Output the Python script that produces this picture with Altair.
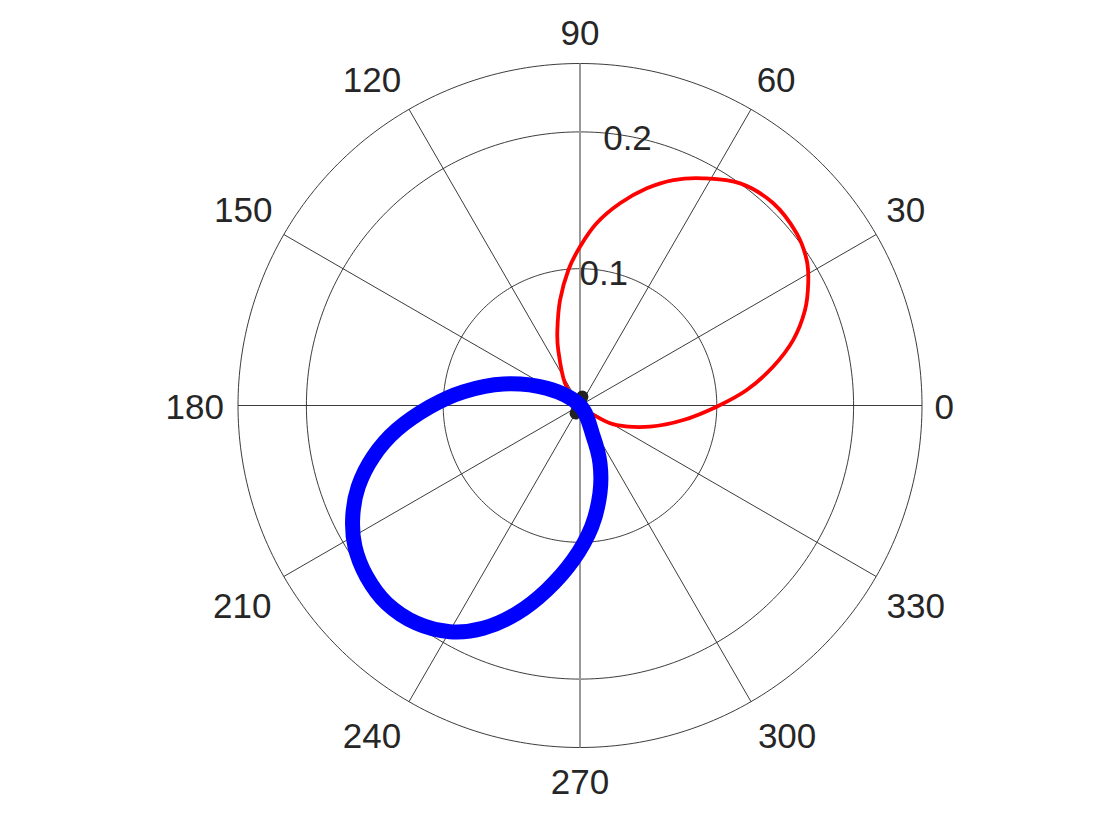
import altair as alt
import numpy as np
import pandas as pd

# ---- data (theta in degrees, r in data units) ----
red_theta = [-45.0, -33.8, -28.0, -16.8, -8.0, -0.5, 5.3, 11.4, 17.1, 23.0, 28.2, 32.7,
             38.5, 46.3, 54.2, 61.5, 67.5, 72.9, 78.8, 84.8, 90.0, 94.9, 100.7, 106.7,
             111.4, 124.0]
red_r = [0.0, 0.0147, 0.0304, 0.0535, 0.0763, 0.0999, 0.1224, 0.1441, 0.1631, 0.1787,
         0.1893, 0.1969, 0.2023, 0.2045, 0.2002, 0.1890, 0.1784, 0.1661, 0.1507, 0.1338,
         0.1161, 0.0994, 0.0785, 0.0576, 0.0436, 0.0196]

blue_theta = [135.0, 152.7, 164.3, 173.3, 180.5, 187.6, 193.9, 200.1, 206.1, 212.1, 218.7,
              225.7, 233.1, 240.1, 246.5, 253.1, 259.8, 267.5, 275.5, 282.8, 289.1, 293.1]
blue_r = [0.0, 0.0274, 0.0582, 0.0859, 0.1097, 0.1352, 0.1557, 0.1726, 0.1850, 0.1942,
          0.1999, 0.2022, 0.1990, 0.1907, 0.1776, 0.1588, 0.1371, 0.1130, 0.0890, 0.0658,
          0.0447, 0.0248]

blob_theta = [75.3, 241.1]
blob_r = [0.0068, 0.0066]

ring_values = [0.1, 0.2, 0.25]
ring_label_values = [0.1, 0.2]
ring_label_texts = ["0.1", "0.2"]
spoke_angles = [0, 30, 60, 120, 150]
angle_labels = [0, 30, 60, 90, 120, 150, 180, 210, 240, 270, 300, 330]

# ---- layout ----
R_MAX = 0.25
W, H = 1104, 824
K = 1368.0          # pixels per data unit
CX, CY = 572.0, 397.5
xs = alt.Scale(domain=[-CX / K, (W - CX) / K], nice=False, zero=False)
ys = alt.Scale(domain=[-(H - CY) / K, CY / K], nice=False, zero=False)
X = alt.X("px:Q", scale=xs, axis=None)
Y = alt.Y("py:Q", scale=ys, axis=None)
TXT = "#262626"
FONT = "Liberation Sans"
FS = 35
# small pixel nudges of the angle labels (dx right, dy down), matching the reference layout
label_nudge_dx = [-12, 0, 8, 0, -20, -11, -9, -12, -20, 0, 19, 10]
label_nudge_dy = [0, -9, -1, 2, -1, -9, 0, 11, 3, -1, 3, 11]


def polar(ch):
    return ch.transform_calculate(
        px="datum.r * cos(datum.theta * PI / 180)",
        py="datum.r * sin(datum.theta * PI / 180)",
    )


# rings
grid_ang = np.arange(0, 361, 1)
ring_df = pd.DataFrame(
    [{"ring": i, "theta": float(a), "r": rv, "o": j}
     for i, rv in enumerate(ring_values) for j, a in enumerate(grid_ang)]
)
rings = polar(alt.Chart(ring_df).mark_line(color=TXT, strokeWidth=0.9)).encode(
    x=X, y=Y, detail="ring:N", order="o:Q")

# spokes
spoke_df = pd.DataFrame(
    [{"s": a, "theta": float(a + k * 180), "r": R_MAX, "o": k}
     for a in spoke_angles for k in (0, 1)]
)
spokes = polar(alt.Chart(spoke_df).mark_line(color=TXT, strokeWidth=0.9)).encode(
    x=X, y=Y, detail="s:N", order="o:Q")

vert_df = pd.DataFrame({"theta": [90.0, 270.0], "r": [R_MAX, R_MAX], "o": [0, 1]})
vert = polar(alt.Chart(vert_df).mark_line(color="#999999", strokeWidth=2)).encode(
    x=X, y=Y, order="o:Q")

# ring labels
rl_df = pd.DataFrame({"theta": [80.0] * len(ring_label_values), "r": ring_label_values,
                      "t": ring_label_texts})
ring_text = polar(alt.Chart(rl_df).mark_text(
    font=FONT, fontSize=FS, color=TXT, align="center", baseline="middle", dy=3)).encode(
    x=X, y=Y, text="t:N")

# angle labels
al_df = pd.DataFrame({"theta": [float(a) for a in angle_labels],
                      "r": [1.1 * R_MAX] * len(angle_labels),
                      "t": [str(a) for a in angle_labels],
                      "ndx": label_nudge_dx, "ndy": label_nudge_dy})
ang_text = alt.Chart(al_df).transform_calculate(
    px=f"datum.r * cos(datum.theta * PI / 180) + datum.ndx / {K}",
    py=f"datum.r * sin(datum.theta * PI / 180) - datum.ndy / {K}",
).mark_text(font=FONT, fontSize=FS, color=TXT, align="center", baseline="middle",
            dy=2.5).encode(x=X, y=Y, text="t:N")

# data curves
blob_df = pd.DataFrame({"theta": blob_theta, "r": blob_r, "o": [0, 1]})
blob = polar(alt.Chart(blob_df).mark_line(color="#222222", strokeWidth=12,
                                          strokeCap="round")).encode(x=X, y=Y, order="o:Q")

red_df = pd.DataFrame({"theta": red_theta, "r": red_r, "o": list(range(len(red_r)))})
red = polar(alt.Chart(red_df).mark_line(color="#ff0000", strokeWidth=3.8,
                                        interpolate="cardinal-closed",
                                        strokeJoin="round")).encode(x=X, y=Y, order="o:Q")

blue_df = pd.DataFrame({"theta": blue_theta, "r": blue_r, "o": list(range(len(blue_r)))})
blue = polar(alt.Chart(blue_df).mark_line(color="#0000ff", strokeWidth=15,
                                          interpolate="cardinal-closed",
                                          strokeJoin="round")).encode(x=X, y=Y, order="o:Q")

chart = alt.layer(rings, spokes, vert, ring_text, ang_text, blob, red, blue).properties(
    width=W, height=H, padding=0, autosize=alt.AutoSizeParams(type="none"),
    background="white",
).configure_view(stroke=None)

chart.save("out.html", embed_options={"renderer": "svg", "actions": False})
